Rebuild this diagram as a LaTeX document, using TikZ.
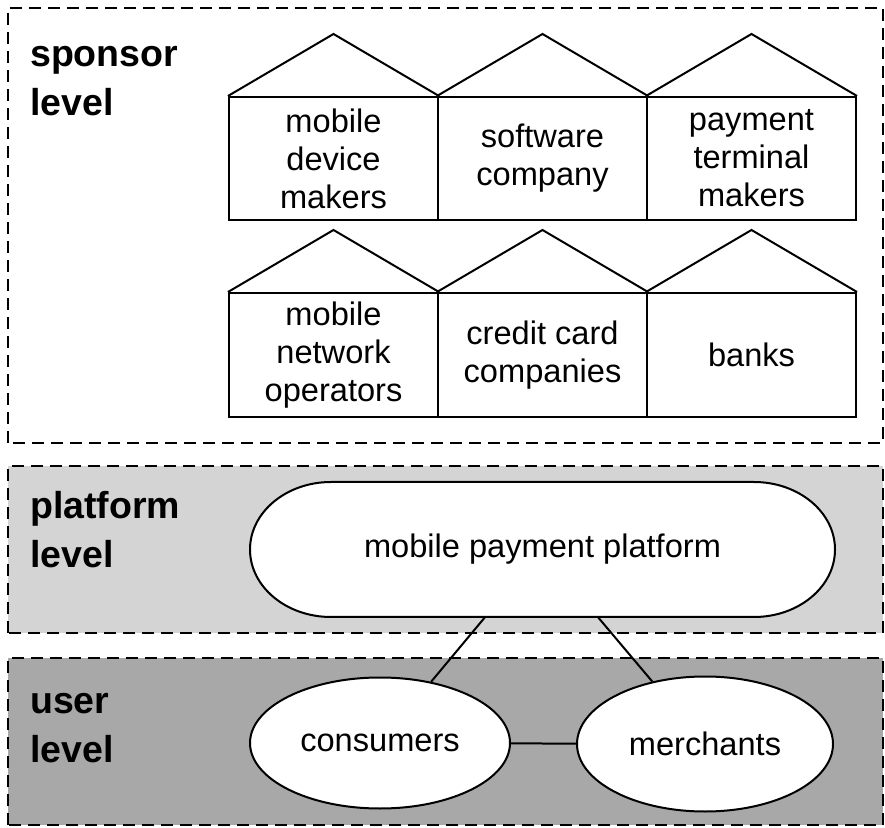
\documentclass[tikz,border=0pt]{standalone}
\usepackage{fontspec}
\setmainfont{Liberation Sans}
\usetikzlibrary{shapes.geometric}
\definecolor{platgray}{gray}{0.83}
\definecolor{usergray}{gray}{0.66}
\tikzset{
	levelbox/.style={draw,line width=2.2pt,dash pattern=on 12pt off 7pt},
	lvl/.style={anchor=base west,align=left,inner sep=0pt,font=\fontsize{37.5}{49}\selectfont\bfseries},
	house/.style={draw,line width=2pt,minimum width=209pt,inner sep=0pt,align=center,font=\fontsize{32.6}{38}\selectfont},
	oval/.style={ellipse,draw,fill=white,line width=2pt,inner sep=0pt,font=\fontsize{32.6}{38}\selectfont},
}
\begin{document}
\begin{tikzpicture}[x=1pt,y=1pt,line join=miter]
	\useasboundingbox (0,0) rectangle (885,827);
	% the three levels
	\draw[levelbox] (8,384) rectangle (883,819);
	\draw[levelbox,fill=platgray] (8,194) rectangle (883,361);
	\draw[levelbox,fill=usergray] (8,2) rectangle (883,169);
	\node[lvl] (sponsor) at (30,711) {sponsor\\level};
	\node[lvl] (platlvl) at (30,259) {platform\\level};
	\node[lvl] (userlvl) at (30,65) {user\\level};
	% sponsors
	\node[house,minimum height=123pt] (mdm) at (333.5,668.5) {mobile\\device\\makers};
	\node[house,minimum height=123pt] (swc) at (542.5,668.5) {software\\company};
	\node[house,minimum height=123pt] (ptm) at (751.5,668.5) {payment\\terminal\\makers};
	\node[house,minimum height=124pt] (mno) at (333.5,472) {mobile\\network\\operators};
	\node[house,minimum height=124pt] (ccc) at (542.5,472) {credit card\\companies};
	\node[house,minimum height=124pt] (bnk) at (751.5,472) {banks};
	\foreach \h in {mdm,swc,ptm,mno,ccc,bnk}
		\draw[line width=2pt] (\h.north west) -- ([yshift=62pt]\h.north) -- (\h.north east);
	% platform
	\filldraw[fill=white,line width=2pt] (331,345) -- (754,345)
		arc[start angle=90,end angle=-90,x radius=81,y radius=67.5] -- (331,210)
		arc[start angle=270,end angle=90,x radius=81,y radius=67.5] -- cycle;
	\node[minimum width=585pt,minimum height=135pt,inner sep=0pt,font=\fontsize{32.6}{38}\selectfont] (mpp) at (542.5,277.5) {\raisebox{-3pt}{mobile payment platform}};
	% users
	\node[oval,minimum width=260pt,minimum height=131pt] (cons) at (380,84) {consumers};
	\node[oval,minimum width=256pt,minimum height=135pt] (merc) at (705,83) {merchants};
	\draw[line width=2pt] ([xshift=-57.5pt]mpp.south) -- (cons);
	\draw[line width=2pt] ([xshift=55.5pt]mpp.south) -- (merc);
	\draw[line width=2pt] (cons) -- (merc);
\end{tikzpicture}
\end{document}
